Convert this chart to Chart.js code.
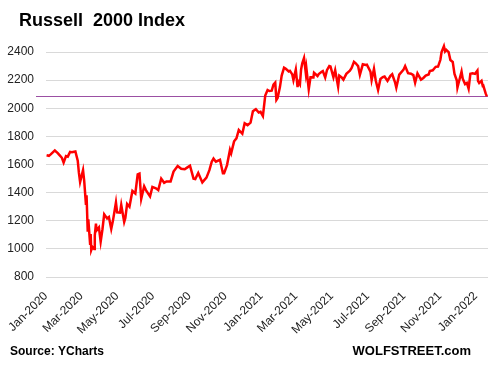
<!DOCTYPE html>
<html>
<head>
<meta charset="utf-8">
<script src="https://cdn.jsdelivr.net/npm/chart.js@4.4.1/dist/chart.umd.min.js"></script>
<style>
  html, body { margin: 0; padding: 0; background: #fff; }
  #wrap { width: 494px; height: 365px; position: relative; }
</style>
</head>
<body>
<div id="wrap"><canvas id="r2kChart"></canvas></div>
<script>
const titleText = 'Russell  2000 Index';
const sourceText = 'Source: YCharts';
const siteText = 'WOLFSTREET.com';

// daily closes (roughly every few trading days)
const dates = [
  '2020-01-02','2020-01-06','2020-01-09','2020-01-13','2020-01-16','2020-01-21','2020-01-24','2020-01-28','2020-01-31',
  '2020-02-04','2020-02-07','2020-02-11','2020-02-14','2020-02-20','2020-02-24','2020-02-26','2020-02-28',
  '2020-03-04','2020-03-06','2020-03-09','2020-03-10','2020-03-12','2020-03-13','2020-03-16','2020-03-17','2020-03-18',
  '2020-03-20','2020-03-23','2020-03-24','2020-03-26','2020-03-27','2020-03-31',
  '2020-04-03','2020-04-06','2020-04-09','2020-04-14','2020-04-17','2020-04-21','2020-04-24','2020-04-29',
  '2020-05-01','2020-05-06','2020-05-08','2020-05-13','2020-05-15','2020-05-18','2020-05-22','2020-05-27',
  '2020-06-01','2020-06-05','2020-06-08','2020-06-11','2020-06-16','2020-06-19','2020-06-26','2020-06-30',
  '2020-07-06','2020-07-10','2020-07-15','2020-07-20','2020-07-24','2020-07-31',
  '2020-08-05','2020-08-12','2020-08-18','2020-08-24','2020-08-28',
  '2020-09-02','2020-09-08','2020-09-11','2020-09-16','2020-09-23','2020-09-30',
  '2020-10-05','2020-10-09','2020-10-12','2020-10-16','2020-10-23','2020-10-28','2020-10-30',
  '2020-11-04','2020-11-09','2020-11-11','2020-11-16','2020-11-20','2020-11-24','2020-11-30',
  '2020-12-04','2020-12-09','2020-12-14','2020-12-18','2020-12-23','2020-12-28','2020-12-31',
  '2021-01-04','2021-01-08','2021-01-12','2021-01-15','2021-01-19','2021-01-22','2021-01-25','2021-01-27','2021-01-29',
  '2021-02-02','2021-02-05','2021-02-09','2021-02-12','2021-02-17','2021-02-19','2021-02-23','2021-02-25',
  '2021-03-01','2021-03-04','2021-03-05','2021-03-08','2021-03-10','2021-03-12','2021-03-15','2021-03-18','2021-03-19',
  '2021-03-23','2021-03-26','2021-03-31',
  '2021-04-01','2021-04-07','2021-04-09','2021-04-14','2021-04-16','2021-04-20','2021-04-23','2021-04-27','2021-04-29',
  '2021-05-04','2021-05-07','2021-05-12','2021-05-14','2021-05-18','2021-05-21','2021-05-26',
  '2021-06-01','2021-06-04','2021-06-08','2021-06-11','2021-06-15','2021-06-18','2021-06-23','2021-06-28','2021-06-30',
  '2021-07-06','2021-07-08','2021-07-12','2021-07-15','2021-07-19','2021-07-23','2021-07-27','2021-07-30',
  '2021-08-04','2021-08-09','2021-08-12','2021-08-17','2021-08-19','2021-08-24','2021-08-31',
  '2021-09-03','2021-09-08','2021-09-13','2021-09-17','2021-09-20','2021-09-24','2021-09-30',
  '2021-10-04','2021-10-08','2021-10-13','2021-10-15','2021-10-20','2021-10-25','2021-10-29',
  '2021-11-02','2021-11-04','2021-11-08','2021-11-10','2021-11-12','2021-11-16','2021-11-19','2021-11-23','2021-11-26','2021-11-30',
  '2021-12-01','2021-12-03','2021-12-08','2021-12-10','2021-12-14','2021-12-17','2021-12-20','2021-12-23','2021-12-27','2021-12-31',
  '2022-01-04','2022-01-05','2022-01-07','2022-01-11','2022-01-13','2022-01-14','2022-01-18','2022-01-20'
];
const closes = [
  1666,1662,1672,1688,1700,1681,1667,1648,1614,
  1660,1656,1690,1688,1693,1628,1540,1476,
  1560,1484,1313,1382,1122,1210,1037,1106,991,
  1014,1000,1094,1180,1131,1153,
  1052,1138,1246,1216,1226,1142,1203,1330,
  1260,1258,1313,1191,1220,1320,1300,1412,
  1394,1530,1535,1356,1445,1418,1373,1441,
  1431,1418,1500,1470,1480,1480,
  1550,1590,1570,1566,1578,
  1592,1500,1497,1540,1473,1507,
  1560,1620,1642,1620,1634,1538,1538,
  1596,1704,1680,1765,1786,1846,1819,
  1893,1880,1898,1979,1994,1970,1975,
  1945,2091,2130,2123,2125,2169,2183,2060,2073,
  2151,2233,2289,2281,2262,2266,2241,2201,
  2275,2150,2192,2170,2276,2320,2358,2250,2285,
  2135,2221,2220,
  2253,2230,2243,2259,2264,2219,2271,2300,2297,
  2220,2271,2154,2233,2220,2204,2245,
  2267,2287,2330,2320,2300,2238,2313,2308,2310,
  2261,2200,2281,2198,2130,2209,2222,2226,
  2195,2231,2242,2182,2147,2240,2273,
  2300,2250,2246,2236,2182,2248,2204,
  2216,2233,2240,2265,2270,2295,2297,
  2345,2400,2442,2405,2416,2400,2343,2330,2245,2198,
  2147,2180,2261,2211,2172,2180,2139,2245,2249,2245,
  2268,2195,2180,2195,2160,2162,2106,2085
];

const xTickDates = ['2020-01-01','2020-03-01','2020-05-01','2020-07-01','2020-09-01','2020-11-01',
  '2021-01-01','2021-03-01','2021-05-01','2021-07-01','2021-09-01','2021-11-01','2022-01-01'];
const xTickLabels = ['Jan-2020','Mar-2020','May-2020','Jul-2020','Sep-2020','Nov-2020',
  'Jan-2021','Mar-2021','May-2021','Jul-2021','Sep-2021','Nov-2021','Jan-2022'];
const yTicks = [800, 1000, 1200, 1400, 1600, 1800, 2000, 2200, 2400];
const refLevel = 2085;

function dayNum(s) {
  const p = s.split('-');
  return (Date.UTC(+p[0], +p[1] - 1, +p[2]) - Date.UTC(2020, 0, 1)) / 86400000;
}

const points = [];
for (var i in dates) {
  points.push({ x: dayNum(dates[i]), y: closes[i] });
}

const refLine = {
  id: 'refLine',
  beforeDatasetsDraw(chart) {
    const ctx = chart.ctx;
    const y = Math.round(chart.scales.y.getPixelForValue(refLevel)) + 0.5;
    ctx.save();
    ctx.strokeStyle = '#9b4fa3';
    ctx.lineWidth = 1;
    ctx.beginPath();
    ctx.moveTo(chart.chartArea.left - 10, y);
    ctx.lineTo(chart.chartArea.right, y);
    ctx.stroke();
    ctx.restore();
  }
};

const texts = {
  id: 'texts',
  afterDraw(chart) {
    const ctx = chart.ctx;
    ctx.save();
    ctx.fillStyle = '#000';
    ctx.textBaseline = 'alphabetic';
    ctx.font = 'bold 18px "Liberation Sans", Arial, sans-serif';
    ctx.fillText(titleText, 19, 26);
    ctx.font = 'bold 12px "Liberation Sans", Arial, sans-serif';
    ctx.fillText(sourceText, 10, 355);
    ctx.font = 'bold 13px "Liberation Sans", Arial, sans-serif';
    ctx.textAlign = 'right';
    ctx.fillText(siteText, 471, 355);
    ctx.restore();
  }
};

const ctx = document.getElementById('r2kChart').getContext('2d');
const myChart = new Chart(ctx, {
  type: 'line',
  data: {
    datasets: [{
      label: 'Russell 2000',
      data: points,
      borderColor: '#ff0000',
      borderWidth: 2.5,
      pointRadius: 0,
      tension: 0,
      fill: false
    }]
  },
  options: {
    responsive: true,
    maintainAspectRatio: false,
    animation: false,
    layout: { padding: { top: 38, right: 6, left: 0, bottom: 0 } },
    plugins: {
      legend: { display: false },
      tooltip: { enabled: false }
    },
    scales: {
      x: {
        type: 'linear',
        min: 0,
        max: 752,
        grid: { display: false },
        border: { display: false },
        afterBuildTicks: function (s) {
          s.ticks = xTickDates.map(d => ({ value: dayNum(d) }));
        },
        afterFit: function (s) { s.height = 88; },
        ticks: {
          autoSkip: false,
          minRotation: 45,
          maxRotation: 45,
          padding: 4,
          color: '#222',
          font: { family: '"Liberation Sans", Arial, sans-serif', size: 12 },
          callback: function (v, idx) { return xTickLabels[idx]; }
        }
      },
      y: {
        min: 800,
        max: 2500,
        grid: { color: '#d9d9d9', lineWidth: 1, drawTicks: false },
        border: { display: false },
        afterBuildTicks: function (s) {
          s.ticks = yTicks.map(v => ({ value: v }));
        },
        afterFit: function (s) { s.width = 46; },
        ticks: {
          padding: 12,
          color: '#222',
          font: { family: '"Liberation Sans", Arial, sans-serif', size: 12 },
          callback: function (v) { return String(v); }
        }
      }
    }
  },
  plugins: [refLine, texts]
});
</script>
</body>
</html>
